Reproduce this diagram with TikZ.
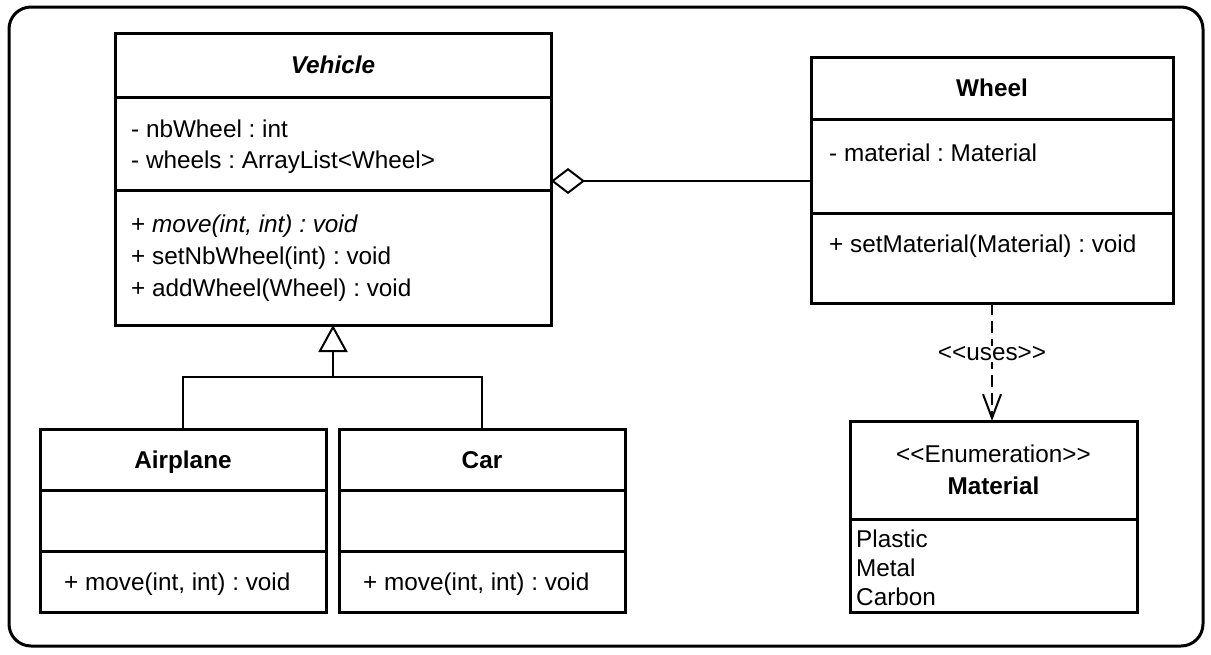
\documentclass[tikz,border=0pt]{standalone}
\usepackage{fontspec}
\setmainfont{Liberation Sans}
\setsansfont{Liberation Sans}
\usetikzlibrary{positioning,arrows.meta}
\frenchspacing

\begin{document}
\begin{tikzpicture}[x=1pt,y=-1pt,
  font=\fontsize{24.3}{31}\selectfont,
  part/.style={draw, line width=3pt, inner sep=0pt, outer sep=0pt},
  head/.style={part, text height=17pt, text depth=0pt},
  txt/.style={anchor=north west, align=left, inner sep=0pt},
  link/.style={line width=2pt}]
\useasboundingbox (0,0) rectangle (1211,654);
\draw[line width=3pt, rounded corners=22pt] (9,7) rectangle (1203,646);

% Vehicle
\node[head, minimum width=436pt, minimum height=64pt] (vehhead) at (333,65) {\textbf{\textit{Vehicle}}};
\node[part, minimum width=436pt, minimum height=93pt, below=0pt of vehhead] (vehattr) {};
\node[part, minimum width=436pt, minimum height=135pt, below=0pt of vehattr] (vehmeth) {};
\node[txt] (vehattrtxt) at ([xshift=16pt,yshift=-23pt]vehattr.north west)
  {- nbWheel : int\\- wheels : ArrayList\textless Wheel\textgreater};
\node[txt, font=\fontsize{24.3}{32}\selectfont] (vehmethtxt) at ([xshift=16pt,yshift=-25pt]vehmeth.north west)
  {+ \textit{move(int, int) : void}\\+ setNbWheel(int) : void\\+ addWheel(Wheel) : void};

% Wheel
\node[head, minimum width=362pt, minimum height=62pt] (wheelhead) at (992,88) {\textbf{Wheel}};
\node[part, minimum width=362pt, minimum height=94pt, below=0pt of wheelhead] (wheelattr) {};
\node[part, minimum width=362pt, minimum height=90pt, below=0pt of wheelattr] (wheelmeth) {};
\node[txt] (wheelattrtxt) at ([xshift=18pt,yshift=-25pt]wheelattr.north west) {- material : Material};
\node[txt] (wheelmethtxt) at ([xshift=18pt,yshift=-22pt]wheelmeth.north west) {+ setMaterial(Material) : void};

% Airplane
\node[head, minimum width=286pt, minimum height=61pt] (airhead) at (183,459.5) {\textbf{Airplane}};
\node[part, minimum width=286pt, minimum height=61pt, below=0pt of airhead] (airattr) {};
\node[part, minimum width=286pt, minimum height=61pt, below=0pt of airattr] (airmeth) {};
\node[txt] (airmethtxt) at ([xshift=24pt,yshift=-22pt]airmeth.north west) {+ move(int, int) : void};

% Car
\node[head, minimum width=286pt, minimum height=61pt] (carhead) at (482,459.5) {\textbf{Car}};
\node[part, minimum width=286pt, minimum height=61pt, below=0pt of carhead] (carattr) {};
\node[part, minimum width=286pt, minimum height=61pt, below=0pt of carattr] (carmeth) {};
\node[txt] (carmethtxt) at ([xshift=24pt,yshift=-22pt]carmeth.north west) {+ move(int, int) : void};

% Material
\node[part, minimum width=287pt, minimum height=98pt, align=center, font=\fontsize{24.3}{32}\selectfont] (mathead) at (993.5,470)
  {\textless\kern0pt\textless Enumeration\textgreater\kern0pt\textgreater\\\textbf{Material}};
\node[part, minimum width=287pt, minimum height=93pt, below=0pt of mathead] (matbody) {};
\node[txt, font=\fontsize{24.3}{29}\selectfont] (matbodytxt) at ([xshift=6pt,yshift=-11pt]matbody.north west)
  {Plastic\\Metal\\Carbon};

% aggregation
\draw[link, -{Diamond[open, length=34pt, width=26pt]}] (wheelattr.west |- 0,181) -- (vehattr.east |- 0,181);

% generalisation
\coordinate (join) at (333,377);
\draw[link] (airhead.north) |- (join) -| (carhead.north);
\draw[link, -{Triangle[open, length=27pt, width=29pt]}] (join) -- (vehmeth.south);

% dependency
\draw[link, dash pattern=on 12pt off 6pt, -{Straight Barb[length=24pt, width=18pt]}]
  (wheelmeth.south) -- (wheelmeth.south |- mathead.north)
  node[pos=0.43, fill=white, inner sep=1pt] (uses) {\textless\kern0pt\textless uses\textgreater\kern0pt\textgreater};
\end{tikzpicture}
\end{document}
